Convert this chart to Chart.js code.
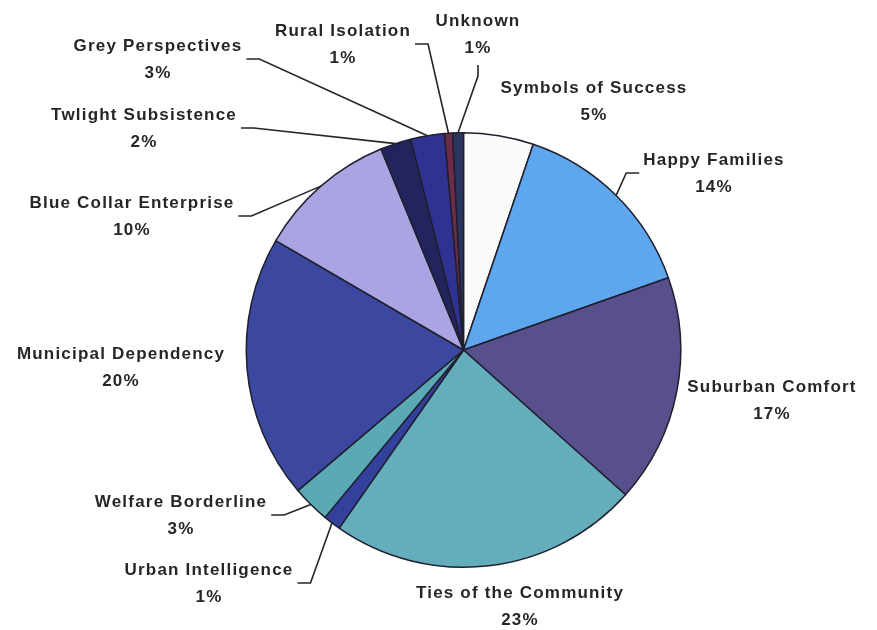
<!DOCTYPE html>
<html>
<head>
<meta charset="utf-8">
<script src="https://cdn.jsdelivr.net/npm/chart.js@4/dist/chart.umd.min.js"></script>
<style>
  html, body { margin: 0; background: #fff; }
</style>
</head>
<body>
<canvas id="segmentChart" width="877" height="630"></canvas>
<script>
const segments = [
  'Symbols of Success', 'Happy Families', 'Suburban Comfort', 'Ties of the Community',
  'Urban Intelligence', 'Welfare Borderline', 'Municipal Dependency', 'Blue Collar Enterprise',
  'Twlight Subsistence', 'Grey Perspectives', 'Rural Isolation', 'Unknown',
]
const shares = [5.2, 14.4, 17.0, 23.1, 1.3, 2.8, 19.6, 10.4, 2.3, 2.5, 0.6, 0.8]
const sliceColors = [
  '#f9fbfb', '#5ea6ee', '#58508c', '#64adbd', '#33409c', '#5aa9b5',
  '#3c479f', '#a9a4e2', '#23235e', '#2f3290', '#6c2b47', '#2a3560',
]

// centre of each label's name line, and where its leader line leaves from
const labelPos = [
  [594, 88], [714, 160], [772, 387], [520, 593], [209, 570], [181, 502],
  [121, 354], [132, 203], [144, 115], [158, 46], [343, 31], [478, 21],
]
const leaderSide = [null, 'left', null, null, 'right', 'right', null, 'right', 'right', 'right', 'right', 'below']

const outsideLabels = {
  id: 'outsideLabels',
  afterDatasetsDraw(chart) {
    const ctx = chart.ctx
    const arcs = chart.getDatasetMeta(0).data
    const total = shares.reduce((a, b) => a + b, 0)
    ctx.save()
    ctx.font = 'bold 17px "Liberation Sans", Arial, sans-serif'
    ctx.letterSpacing = '1.2px'
    ctx.fillStyle = '#262626'
    ctx.strokeStyle = '#262626'
    ctx.lineWidth = 1.6
    ctx.textAlign = 'center'
    ctx.textBaseline = 'middle'
    arcs.forEach((arc, i) => {
      const [x, y] = labelPos[i]
      ctx.fillText(segments[i], x, y)
      ctx.fillText(Math.round((shares[i] / total) * 100) + '%', x, y + 27)

      const side = leaderSide[i]
      if (!side) return
      const p = arc.getProps(['x', 'y', 'startAngle', 'endAngle', 'outerRadius'], true)
      const mid = (p.startAngle + p.endAngle) / 2
      const ex = p.x + Math.cos(mid) * p.outerRadius
      const ey = p.y + Math.sin(mid) * p.outerRadius
      const w = ctx.measureText(segments[i]).width
      let sx, sy, kx, ky
      if (side === 'right') {
        sx = x + w / 2 + 4; sy = y + 13; kx = sx + 13; ky = sy
      } else if (side === 'left') {
        sx = x - w / 2 - 4; sy = y + 13; kx = sx - 13; ky = sy
      } else {
        sx = x; sy = y + 44; kx = sx; ky = sy + 11
      }
      ctx.beginPath()
      ctx.moveTo(sx, sy)
      ctx.lineTo(kx, ky)
      ctx.lineTo(ex, ey)
      ctx.stroke()
    })
    ctx.restore()
  },
}

new Chart(document.getElementById('segmentChart'), {
  type: 'pie',
  data: {
    labels: segments,
    datasets: [
      {
        data: shares,
        backgroundColor: sliceColors,
        borderColor: '#1f1f2e',
        borderWidth: 1.5,
        hoverOffset: 0,
      },
    ],
  },
  options: {
    responsive: false,
    animation: false,
    layout: { padding: { top: 132, bottom: 62, left: 245, right: 195 } },
    plugins: { legend: { display: false }, tooltip: { enabled: false } },
  },
  plugins: [outsideLabels],
})
</script>
</body>
</html>
